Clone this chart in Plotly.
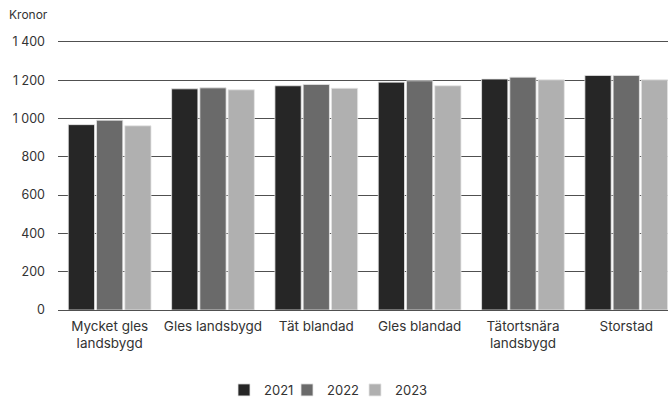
import plotly.graph_objects as go

# Municipality groups (x categories)
categories = [
    "Mycket gles<br>landsbygd",
    "Gles landsbygd",
    "Tät blandad",
    "Gles blandad",
    "Tätortsnära<br>landsbygd",
    "Storstad",
]

# Cost in kronor per year
values_2021 = [968, 1155, 1171, 1190, 1206, 1225]
values_2022 = [991, 1160, 1178, 1197, 1216, 1225]
values_2023 = [962, 1150, 1158, 1171, 1202, 1202]

years = ["2021", "2022", "2023"]
colors = ["#262626", "#6a6a6a", "#b0b0b0"]

y_tickvals = [0, 200, 400, 600, 800, 1000, 1200, 1400]
y_ticktext = ["0", "200", "400", "600", "800", "1 000", "1 200", "1 400"]

FONT = "Inter, Roboto, sans-serif"
TEXT_COLOR = "#333333"

W, H = 668, 398
Y_MAX = 1410
PX_PER_UNIT = 268.2 / 1400
TOP_MARGIN = 310.5 - Y_MAX * PX_PER_UNIT

# one small legend box per year, laid out in a row under the chart
legend_ids = ["legend", "legend2", "legend3"]
legend_left_px = [224, 287, 355]

fig = go.Figure()
for name, vals, col, lg in zip(years, [values_2021, values_2022, values_2023], colors, legend_ids):
    fig.add_trace(go.Bar(
        x=list(range(len(categories))),
        y=vals,
        name=name,
        legend=lg,
        marker=dict(color=col, line=dict(color="#e6e6e6", width=0.8)),
    ))

legend_style = dict(
    orientation="h",
    xref="container",
    yref="container",
    xanchor="left",
    y=8 / H,
    yanchor="middle",
    font=dict(size=13, color=TEXT_COLOR),
    itemwidth=30,
    bgcolor="rgba(0,0,0,0)",
)

fig.update_layout(
    width=W,
    height=H,
    margin=dict(l=57.5, r=0, t=TOP_MARGIN, b=87.5, autoexpand=False),
    paper_bgcolor="white",
    plot_bgcolor="white",
    barmode="group",
    bargap=0.18,
    bargroupgap=0.07,
    font=dict(family=FONT, size=13, color=TEXT_COLOR),
    showlegend=True,
    annotations=[dict(
        text="Kronor",
        xref="paper", yref="paper",
        x=-51.5 / 610.5, xanchor="left",
        y=1 + (15 - TOP_MARGIN) * -1 / (310.5 - TOP_MARGIN),
        yanchor="middle",
        showarrow=False,
        font=dict(size=12, color=TEXT_COLOR),
    )],
)
for lg, left in zip(legend_ids, legend_left_px):
    fig.update_layout({lg: dict(legend_style, x=left / W)})

fig.update_xaxes(
    tickmode="array",
    tickvals=list(range(len(categories))),
    ticktext=categories,
    range=[-0.5, 5.404],
    showgrid=False,
    showline=False,
    zeroline=False,
    ticks="",
    automargin=False,
    ticklabelstandoff=6,
    tickfont=dict(size=13.5, color=TEXT_COLOR),
)

fig.update_yaxes(
    range=[0, Y_MAX],
    tickmode="array",
    tickvals=y_tickvals,
    ticktext=y_ticktext,
    showgrid=True,
    gridcolor="#505050",
    gridwidth=1.3,
    zeroline=True,
    zerolinecolor="#505050",
    zerolinewidth=1.3,
    showline=False,
    ticks="",
    automargin=False,
    ticklabelstandoff=12,
    tickfont=dict(size=12.5, color=TEXT_COLOR),
)

fig.write_html("out.html")
